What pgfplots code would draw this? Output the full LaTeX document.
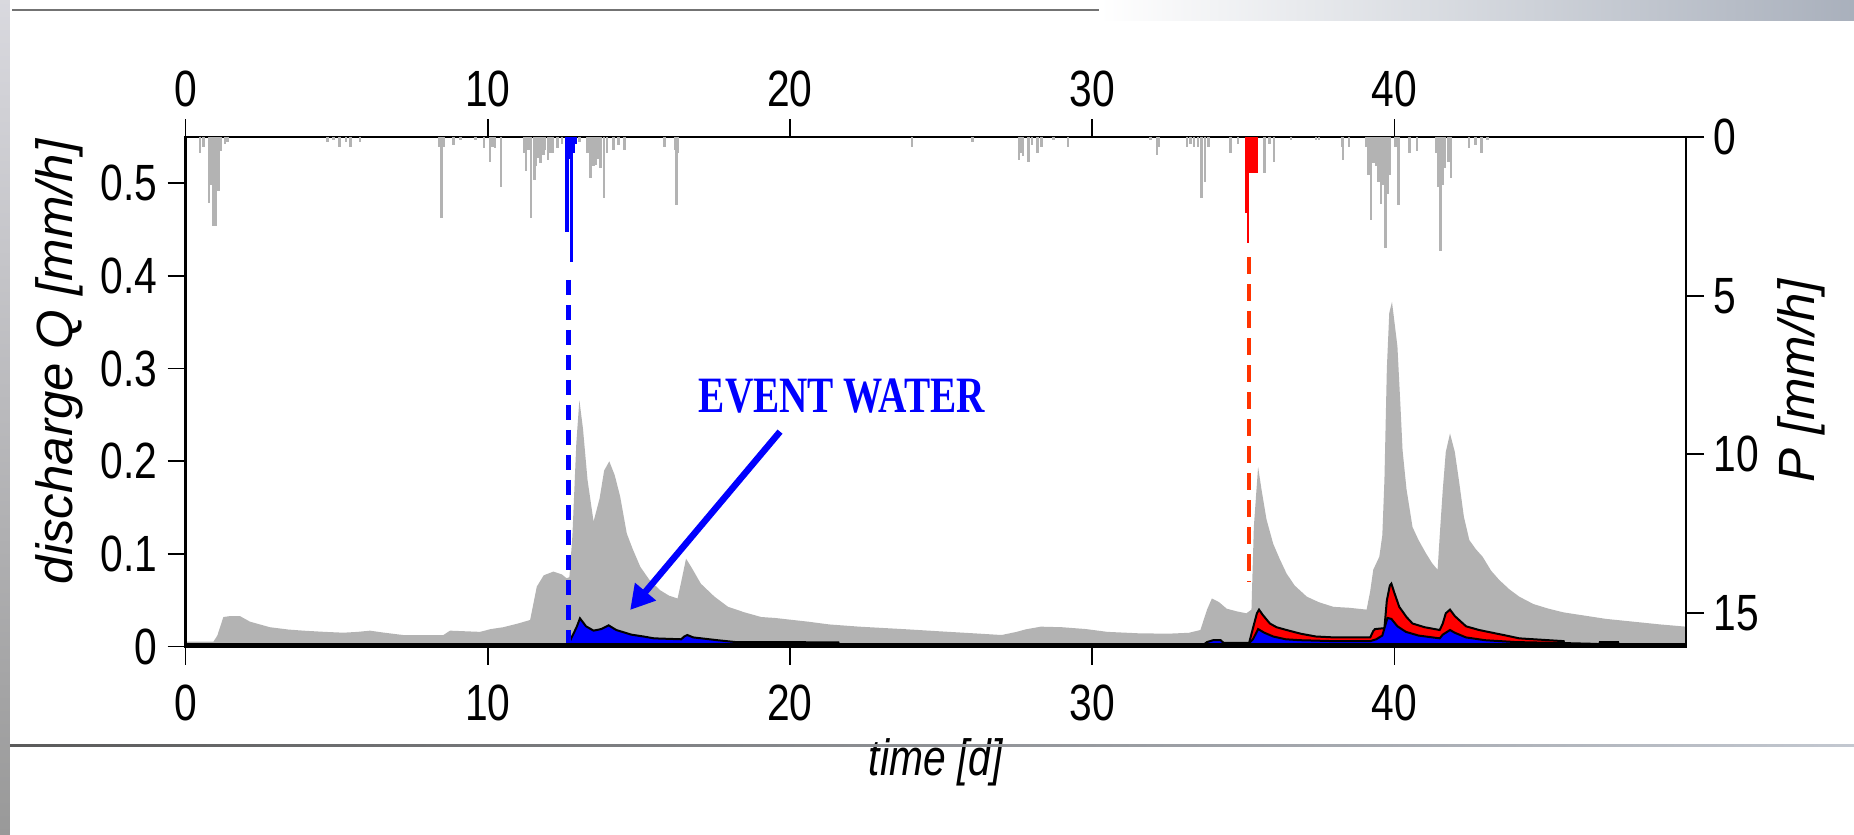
\documentclass[border=0pt]{standalone}
\usepackage{fontspec}
\setmainfont{Liberation Sans}
\newfontfamily\evfont{Liberation Serif}
\usepackage{pgfplots}
\pgfplotsset{compat=1.18}
\usetikzlibrary{arrows.meta}

\definecolor{qgray}{HTML}{B3B3B3}
\definecolor{evblue}{HTML}{0000FF}
\definecolor{evred}{HTML}{FF0000}
\definecolor{dashred}{HTML}{FF3300}
\definecolor{slidegray}{HTML}{A9B0BC}

\pgfplotsset{
  hydro/.style={
    scale only axis, width=150.04mm, height=50.95mm,
    xmin=0, xmax=49.65,
    xtick={0,10,20,30,40},
    tick align=outside,
    major tick length=1.8mm,
    tick style={black, line width=0.45pt},
    axis line style={line width=0.7pt},
    tick label style={font=\fontsize{14.5}{17}\selectfont, xscale=0.8},
    label style={font=\fontsize{14.5}{17}\selectfont\itshape},
    /pgf/number format/assume math mode=true,
  }
}

\begin{document}
\begin{tikzpicture}
\useasboundingbox (-18.56mm,-18.83mm) rectangle (166.84mm,64.67mm);

% discharge axis
\begin{axis}[hydro,
  ymin=0, ymax=0.5496,
  ytick={0,0.1,0.2,0.3,0.4,0.5},
  xtick pos=lower, ytick pos=left,
  xticklabel shift=0.8mm,
  xlabel={time [d]},
  ylabel={discharge Q [mm/h]},
  xlabel style={at={(axis description cs:0.5,-0.2277)}, anchor=center, xscale=0.8},
  ylabel style={at={(axis description cs:-0.0844,0.559)}, anchor=center},
]
% total discharge
\addplot[fill=qgray, draw=none] coordinates {
(0,0.0054) (0.92,0.0054) (1.05,0.012) (1.25,0.032) (1.47,0.033) (1.8,0.033) (2.13,0.027)
(2.79,0.021) (3.4,0.0185) (3.9,0.0173) (4.6,0.016) (5.22,0.0151) (5.7,0.016) (6.1,0.0173)
(6.6,0.015) (7.2,0.0126) (8.0,0.0126) (8.53,0.0126) (8.75,0.0173) (9.74,0.016) (10.1,0.019)
(10.51,0.021) (11.0,0.025) (11.4,0.0288) (11.5,0.045) (11.62,0.0647) (11.85,0.077) (12.17,0.081)
(12.45,0.078) (12.61,0.0738) (12.7,0.075) (12.8,0.12) (12.93,0.22) (13.03,0.266) (13.15,0.235)
(13.3,0.18) (13.5,0.135) (13.7,0.16) (13.85,0.19) (14.02,0.2) (14.2,0.185) (14.38,0.162)
(14.6,0.122) (14.8,0.105) (15.05,0.086) (15.35,0.072) (15.7,0.061) (16.0,0.055) (16.28,0.052)
(16.4,0.07) (16.56,0.095) (16.75,0.085) (17.05,0.068) (17.5,0.054) (17.95,0.043) (18.5,0.037)
(19.05,0.032) (19.5,0.031) (20.6,0.027) (21.3,0.024) (22.3,0.0216) (23.9,0.0187) (25.0,0.0165)
(26.1,0.0144) (27.0,0.0126) (27.5,0.016) (27.8,0.0187) (28.3,0.0216) (29.0,0.021) (29.8,0.019)
(30.5,0.016) (31.5,0.0145) (32.5,0.014) (33.2,0.015) (33.58,0.018) (33.8,0.04) (33.96,0.052)
(34.2,0.048) (34.45,0.041) (34.8,0.038) (35.1,0.036) (35.27,0.04) (35.35,0.13) (35.49,0.194)
(35.6,0.17) (35.77,0.137) (35.99,0.111) (36.2,0.095) (36.43,0.079) (36.7,0.066) (37.1,0.054)
(37.5,0.048) (37.98,0.043) (38.5,0.042) (39.08,0.040) (39.2,0.06) (39.3,0.083) (39.5,0.097)
(39.6,0.12) (39.67,0.18) (39.75,0.3) (39.83,0.36) (39.92,0.372) (40.1,0.324) (40.2,0.26)
(40.27,0.212) (40.4,0.17) (40.6,0.129) (40.8,0.115) (41.04,0.101) (41.25,0.09) (41.43,0.083)
(41.5,0.12) (41.6,0.169) (41.7,0.21) (41.84,0.230) (42.0,0.21) (42.15,0.176) (42.3,0.14)
(42.48,0.115) (42.7,0.105) (42.92,0.097) (43.2,0.082) (43.47,0.072) (43.8,0.062) (44.13,0.054)
(44.6,0.046) (45.1,0.041) (45.6,0.037) (46.2,0.034) (47.0,0.030) (47.9,0.027) (48.8,0.024)
(49.65,0.0216)
} \closedcycle;
% event water of the second event (stacked top)
\addplot[fill=evred, draw=black, line width=0.2mm] coordinates {
(35.15,0) (35.2,0.005) (35.32,0.02) (35.45,0.036) (35.52,0.040) (35.65,0.034) (35.88,0.025)
(36.1,0.021) (36.43,0.018) (36.9,0.014) (37.4,0.011) (38.0,0.010) (39.2,0.010) (39.3,0.017)
(39.36,0.019) (39.67,0.020) (39.75,0.05) (39.85,0.066) (39.9,0.068) (40.0,0.058) (40.16,0.043)
(40.4,0.032) (40.6,0.025) (41.0,0.021) (41.5,0.018) (41.6,0.025) (41.7,0.036) (41.84,0.040)
(42.0,0.033) (42.37,0.022) (42.8,0.018) (43.25,0.015) (43.7,0.012) (44.13,0.009) (45.1,0.007)
(45.6,0.006) (45.65,0)
} \closedcycle;
\addplot[fill=evred, draw=black, line width=0.2mm] coordinates {
(46.75,0) (46.8,0.005) (47.4,0.005) (47.45,0)
} \closedcycle;
% event water of the first event
\addplot[fill=evblue, draw=black, line width=0.2mm] coordinates {
(12.62,0) (12.7,0.005) (12.85,0.015) (12.95,0.022) (13.05,0.0306) (13.25,0.022) (13.5,0.0173)
(13.75,0.019) (14.0,0.023) (14.25,0.018) (14.75,0.013) (15.15,0.011) (15.5,0.009) (16.4,0.008)
(16.5,0.011) (16.6,0.0126) (16.8,0.010) (17.2,0.0085) (17.6,0.007) (18.2,0.005) (21.6,0.0047)
(21.65,0)
} \closedcycle;
\addplot[fill=evblue, draw=black, line width=0.2mm] coordinates {
(33.6,0) (33.8,0.005) (34.0,0.007) (34.25,0.007) (34.35,0.004) (35.2,0.004) (35.32,0.008)
(35.49,0.019) (35.7,0.015) (35.99,0.011) (36.4,0.008) (36.88,0.007) (38.0,0.006) (39.2,0.006)
(39.4,0.008) (39.6,0.012) (39.77,0.031) (39.9,0.030) (40.1,0.022) (40.38,0.016) (40.8,0.012)
(41.5,0.009) (41.6,0.013) (41.84,0.018) (42.0,0.015) (42.37,0.010) (43.0,0.007) (44.0,0.005)
(45.5,0.004) (46.7,0.003) (46.8,0)
} \closedcycle;
% event start markers
\addplot[evblue, line width=0.45mm, dash pattern=on 1.5mm off 1mm] coordinates {(12.67,0.3956) (12.67,0.004)};
\addplot[dashred, line width=0.4mm, dash pattern=on 1.7mm off 1mm] coordinates {(35.2,0.42) (35.2,0.070)};
% zero line
\addplot[black, line width=0.8mm] coordinates {(0,0) (49.65,0)};
\draw[evblue, line width=0.65mm, -{Triangle[length=2.4mm, width=2.6mm]}]
  (axis cs:19.67,0.232) -- (axis cs:14.71,0.0396);
\node[text=evblue, font=\evfont\bfseries\fontsize{14.5}{17}\selectfont, xscale=0.77]
  at (axis cs:21.72,0.2704) {EVENT WATER};
\end{axis}

% precipitation axis
\begin{axis}[hydro,
  ymin=0, ymax=16.07, y dir=reverse,
  ytick={0,5,10,15},
  xtick pos=upper, xticklabel pos=upper,
  ytick pos=right, yticklabel pos=right,
  ylabel={P [mm/h]},
  ylabel style={at={(axis description cs:1.0765,0.5215)}, anchor=center},
]
\addplot[ycomb, qgray, line width=0.25mm] coordinates {
(0.48,0.5) (0.6,0.3) (0.77,2.08) (0.85,1.5) (0.92,2.8) (1.0,2.8) (1.09,1.7) (1.17,0.45) (1.3,0.2)
(1.38,0.14) (4.7,0.14) (4.9,0.1) (5.1,0.3) (5.3,0.15) (5.45,0.3) (5.77,0.14) (8.39,0.3) (8.47,2.55)
(8.55,0.3) (8.87,0.25) (9.1,0.1) (9.59,0.1) (9.88,0.35) (10.07,0.77) (10.15,0.3) (10.23,0.35)
(10.44,1.56) (11.2,0.5) (11.27,1.08) (11.35,0.4) (11.43,2.55) (11.55,1.35) (11.6,0.9) (11.67,0.66)
(11.75,0.8) (11.84,0.56) (11.9,0.4) (12.0,0.72) (12.08,0.5) (12.16,0.5) (12.3,0.35) (12.45,0.2)
(13.04,0.14) (13.3,0.5) (13.4,1.3) (13.5,0.9) (13.57,0.87) (13.65,0.7) (13.73,0.98) (13.84,1.92)
(13.95,0.5) (14.16,0.4) (14.32,0.24) (14.53,0.4) (15.85,0.3) (16.2,0.4) (16.25,2.13) (16.3,0.5)
(24.03,0.3) (26.04,0.16) (27.57,0.72) (27.65,0.5) (27.71,0.6) (27.89,0.77) (28.0,0.25) (28.19,0.5)
(28.32,0.3) (28.72,0.1) (29.2,0.3) (31.93,0.1) (32.14,0.56) (32.2,0.3) (33.13,0.3) (33.25,0.2)
(33.37,0.3) (33.5,0.3) (33.61,1.92) (33.73,1.4) (33.85,0.3) (34.58,0.5) (34.82,0.2) (35.7,1.14)
(35.86,0.2) (36.02,0.77) (36.58,0.1) (37.4,0.1) (37.5,0.1) (38.26,0.3) (38.3,0.72) (38.5,0.3)
(39.07,0.3) (39.15,1.19) (39.23,2.6) (39.3,0.8) (39.39,0.9) (39.47,1.4) (39.55,2.1) (39.63,1.5)
(39.71,3.5) (39.78,1.8) (39.84,1.19) (40.03,0.3) (40.14,2.13) (40.5,0.5) (40.75,0.45) (41.39,0.5)
(41.44,1.56) (41.52,3.6) (41.6,1.5) (41.66,0.98) (41.79,0.77) (41.87,1.3) (42.47,0.35) (42.68,0.25)
(42.88,0.5) (43.08,0.1)
};
\addplot[ycomb, evblue, line width=0.25mm] coordinates {
(12.58,3.0) (12.64,3.0) (12.70,0.7) (12.77,3.95) (12.84,0.5) (12.92,0.2)
};
\addplot[ycomb, evred, line width=0.25mm] coordinates {
(35.1,2.4) (35.16,3.35) (35.22,1.14) (35.28,1.14) (35.34,1.14) (35.4,1.14) (35.46,1.14)
};
\end{axis}

% slide background remnants
\fill[black!55] (-17.36mm,63.55mm) rectangle (91.4mm,63.8mm);
\shade[left color=white, right color=slidegray] (91.4mm,62.6mm) rectangle (166.84mm,64.67mm);
\shade[left color=black!65, right color=slidegray!70] (-18.56mm,-10.0mm) rectangle (166.84mm,-9.8mm);
\shade[top color=blue!15!black!15, bottom color=black!40] (-18.56mm,-18.83mm) rectangle (-17.56mm,64.67mm);
\end{tikzpicture}
\end{document}
